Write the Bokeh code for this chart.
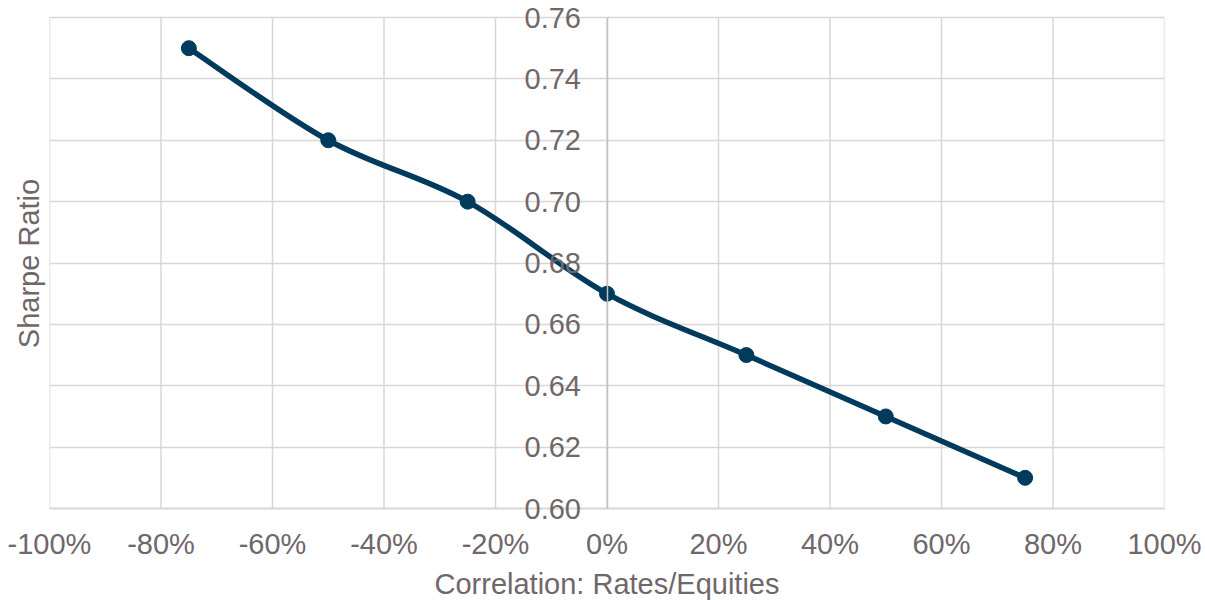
import numpy as np
from bokeh.plotting import figure
from bokeh.models import (FixedTicker, NumeralTickFormatter, Range1d, Title, ColumnDataSource)
from bokeh.embed import file_html
from bokeh.resources import INLINE

# ---- data ----
correlation = [-0.75, -0.50, -0.25, 0.00, 0.25, 0.50, 0.75]
sharpe = [0.75, 0.72, 0.70, 0.67, 0.65, 0.63, 0.61]
x_ticks = [-1.0, -0.8, -0.6, -0.4, -0.2, 0.0, 0.2, 0.4, 0.6, 0.8, 1.0]
y_ticks = [0.60, 0.62, 0.64, 0.66, 0.68, 0.70, 0.72, 0.74, 0.76]
x_title = "Correlation: Rates/Equities"
y_title = "Sharpe Ratio"

TEXT = "#70676a"
GRID = "#dad6d6"
AXIS = "#c6c0c0"
LINE = "#003a5d"
FONT = "Liberation Sans"
FS = "29px"

# layout (pixels): plot area from y=17 (top tick) to y=508 (bottom tick)
PLOT_TOP, PLOT_BOTTOM, PAD_BOTTOM = 17, 508, 18
ppu = (PLOT_BOTTOM - PLOT_TOP) / (y_ticks[-1] - y_ticks[0])
y_start = y_ticks[0] - PAD_BOTTOM / ppu
y_end = y_ticks[-1] + PLOT_TOP / ppu
frame_bottom = PLOT_BOTTOM + PAD_BOTTOM

p = figure(frame_width=1115, frame_height=frame_bottom, output_backend="svg", toolbar_location=None,
           x_range=Range1d(x_ticks[0], x_ticks[-1]), y_range=Range1d(y_start, y_end),
           min_border_left=49, min_border_right=41, min_border_top=0,
           min_border_bottom=600 - frame_bottom)
p.outline_line_color = None
p.background_fill_color = "white"
p.border_fill_color = "white"

# x axis (below)
xa = p.xaxis[0]
xa.ticker = FixedTicker(ticks=x_ticks)
xa.formatter = NumeralTickFormatter(format="0%")
xa.axis_line_color = None
xa.major_tick_line_color = None
xa.minor_tick_line_color = None
xa.major_tick_out = 0
xa.major_tick_in = 0
xa.major_label_standoff = 1
xa.major_label_text_font = FONT
xa.major_label_text_font_size = FS
xa.major_label_text_color = TEXT
xa.axis_label = x_title
xa.axis_label_text_font = FONT
xa.axis_label_text_font_size = FS
xa.axis_label_text_font_style = "normal"
xa.axis_label_text_color = TEXT
xa.axis_label_standoff = 5

# y axis crossing at x = 0
ya = p.yaxis[0]
ya.fixed_location = 0
ya.bounds = (y_ticks[0], y_ticks[-1])
ya.ticker = FixedTicker(ticks=y_ticks)
ya.formatter = NumeralTickFormatter(format="0.00")
ya.axis_line_color = AXIS
ya.axis_line_width = 1.5
ya.major_tick_line_color = None
ya.minor_tick_line_color = None
ya.major_tick_out = 0
ya.major_tick_in = 0
ya.major_label_standoff = 26
ya.major_label_text_font = FONT
ya.major_label_text_font_size = FS
ya.major_label_text_color = TEXT

p.add_layout(Title(text=y_title, align="center", text_font=FONT, text_font_size=FS,
                   text_font_style="normal", text_color=TEXT, offset=0), "left")

# grid
p.xgrid.visible = False
p.ygrid.ticker = FixedTicker(ticks=y_ticks)
p.ygrid[0].grid_line_color = GRID
p.ygrid[0].grid_line_width = 1.5
p.segment(x0=x_ticks, y0=[y_ticks[0]] * len(x_ticks), x1=x_ticks, y1=[y_ticks[-1]] * len(x_ticks),
          line_color=GRID, line_width=1.5, level="underlay")
# bottom axis line
p.segment(x0=[x_ticks[0]], y0=[y_ticks[0]], x1=[x_ticks[-1]], y1=[y_ticks[0]],
          line_color=AXIS, line_width=1.5, level="underlay")

# smoothed line (Catmull-Rom style bezier through the data points)
xs = np.array(correlation)
ys = np.array(sharpe)
xp = np.concatenate([[xs[0]], xs, [xs[-1]]])
yp = np.concatenate([[ys[0]], ys, [ys[-1]]])
n = len(xs)
src = ColumnDataSource(dict(
    x0=xs[:-1], y0=ys[:-1], x1=xs[1:], y1=ys[1:],
    cx0=xs[:-1] + (xp[2:n + 1] - xp[0:n - 1]) / 6.0,
    cy0=ys[:-1] + (yp[2:n + 1] - yp[0:n - 1]) / 6.0,
    cx1=xs[1:] - (xp[3:n + 2] - xp[1:n]) / 6.0,
    cy1=ys[1:] - (yp[3:n + 2] - yp[1:n]) / 6.0,
))
p.bezier(x0="x0", y0="y0", x1="x1", y1="y1", cx0="cx0", cy0="cy0", cx1="cx1", cy1="cy1",
         source=src, line_color=LINE, line_width=5.5, line_cap="round")
p.scatter(correlation, sharpe, size=15, fill_color=LINE, line_color=LINE)

open("out.html", "w").write(file_html(p, INLINE))
